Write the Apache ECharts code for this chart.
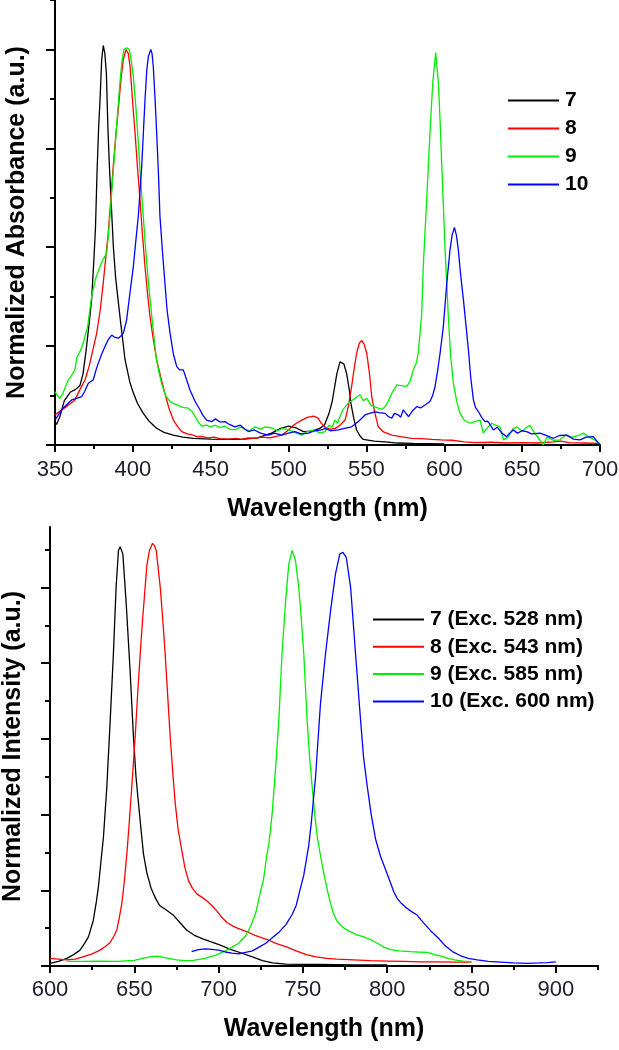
<!DOCTYPE html>
<html>
<head>
<meta charset="utf-8">
<script src="https://cdn.jsdelivr.net/npm/echarts@6/dist/echarts.min.js"></script>
<style>
  html, body { margin: 0; padding: 0; background: #fff; }
  #chart { width: 619px; height: 1050px; }
</style>
</head>
<body>
<div id="chart"></div>
<script>
// ---------- Absorption (top panel) ----------
const absNames = ['7', '8', '9', '10'];
const abs7_x = [350,351,353,356,360,363,366,368,370,372,373.5,375,376,377,378,379,380,381,382,383,384,385,386,387.5,389,391.7,395,398,400,403,406.7,410,415,420,426,432,439,450,460,470,480,489,495,500,505,509.5,515,520,523,526,528,531,533,534,535.5,537.3,539,540,542,543.7,546,548,555,562,570,580,600];
const abs7_y = [0.06,0.052,0.07,0.112,0.134,0.14,0.15,0.18,0.24,0.31,0.367,0.47,0.55,0.69,0.8,0.88,0.975,1.01,0.99,0.94,0.8,0.7,0.62,0.5,0.42,0.325,0.215,0.16,0.135,0.105,0.08,0.062,0.043,0.032,0.025,0.02,0.017,0.015,0.014,0.014,0.018,0.03,0.042,0.048,0.043,0.034,0.035,0.042,0.05,0.08,0.11,0.18,0.21,0.213,0.205,0.18,0.14,0.106,0.065,0.038,0.022,0.014,0.01,0.008,0.005,0.004,0.003];

const abs8_x = [350,353,356.4,360,362.8,366,369.3,372,374,376.8,379,381,383,384.2,386,387.4,389,390.7,392.5,393.9,395.6,397,398.2,400,401.4,403,404.6,406,407.8,409.5,411,413,415.3,418,420.6,423,426,429,431.4,435,438.8,441,444,448,452,456,461,466,470,474,478.5,483,488,492,495.6,499,502,505,508.5,512,516,519,521,524,527,530,533,536.3,538.5,540.5,542,543.7,545.5,547,548.5,550.2,552,553.4,555.5,557.6,561,566.3,572,579,585,592,598,605,613,620,630,640,650,660,670,675,680,690,700];
const abs8_y = [0.076,0.085,0.094,0.105,0.114,0.14,0.165,0.2,0.235,0.283,0.34,0.41,0.49,0.536,0.63,0.705,0.78,0.85,0.93,0.975,1.0,0.99,0.958,0.86,0.79,0.7,0.62,0.54,0.45,0.38,0.325,0.27,0.215,0.17,0.13,0.095,0.063,0.045,0.034,0.028,0.025,0.021,0.022,0.018,0.02,0.016,0.015,0.017,0.014,0.018,0.017,0.02,0.018,0.022,0.025,0.035,0.046,0.055,0.063,0.07,0.073,0.068,0.055,0.043,0.04,0.042,0.05,0.063,0.1,0.148,0.19,0.232,0.258,0.264,0.255,0.232,0.18,0.122,0.08,0.046,0.033,0.025,0.021,0.017,0.016,0.014,0.013,0.012,0.008,0.006,0.007,0.005,0.006,0.005,0.008,0.01,0.006,0.005,0.004];

const abs9_x = [350,351.5,353.2,355,357,358.6,360.5,362.8,364,366,367.5,369.3,371,373.5,376,378.9,381,383.2,385.3,387,388.5,390,391.7,393,394.3,396,397.7,399,400.3,402,403.5,405,406.7,408.3,410,411.5,413.1,415,417,418.5,421,423.9,426.5,429.2,432,435.6,438,440,442,444.2,447,450,452.8,456,459,462,465.6,469,472,475,478.5,482,485,489.2,493,496,500,504,508.5,512,517,520,523.4,526,528,529.8,531.5,533,535,538.4,540.5,542.7,545.9,548,550.2,553,557.6,560,562,564,566.3,569.5,572,575.9,578,580.1,582.3,583.5,584.4,585.5,586.5,588.7,590.8,592.6,594.5,596.2,597.3,598.4,600.5,602.6,604,605.8,608,610.1,613,616.5,620,623,625.1,627,630.5,633,635.8,638,641,644,646.5,650,652,655,658,661,663.6,666,670,674.3,678,682,686,689.3,693,697,700];
const abs9_y = [0.135,0.125,0.118,0.13,0.15,0.165,0.175,0.19,0.22,0.236,0.25,0.275,0.3,0.375,0.42,0.451,0.47,0.485,0.578,0.67,0.747,0.83,0.916,0.97,1.0,1.004,1.0,0.97,0.932,0.85,0.764,0.67,0.578,0.49,0.41,0.35,0.29,0.22,0.18,0.155,0.125,0.11,0.104,0.1,0.095,0.093,0.085,0.072,0.058,0.048,0.05,0.046,0.05,0.044,0.048,0.04,0.038,0.045,0.04,0.036,0.046,0.04,0.046,0.043,0.036,0.042,0.038,0.032,0.025,0.034,0.038,0.03,0.034,0.05,0.045,0.063,0.055,0.072,0.09,0.106,0.112,0.118,0.127,0.112,0.118,0.1,0.093,0.09,0.097,0.11,0.131,0.152,0.15,0.148,0.16,0.19,0.21,0.24,0.283,0.33,0.451,0.62,0.789,0.916,0.992,0.916,0.82,0.705,0.494,0.325,0.23,0.157,0.11,0.08,0.062,0.055,0.06,0.063,0.03,0.04,0.055,0.05,0.046,0.013,0.02,0.04,0.046,0.035,0.042,0.05,0.03,0.015,0.0,0.02,0.012,0.013,0.025,0.02,0.024,0.03,0.02,0.012,0.0];

const abs10_x = [350,352,354.3,357,360.7,364,367.1,369,371.4,374.6,376,377.8,380,382.1,384,386.4,388.5,390.7,392.5,393.9,396,398,400.3,402,403.5,405.7,407.8,409,410,411.5,412.3,413.1,414.2,415.3,416.5,417.4,419,420.6,422,423.9,426,428.2,430,432.4,434.5,436.7,440,443.1,445,447.4,450.6,453,456,459.2,462,465.6,469,472,474.2,478,482,487,491,495.6,500,504.1,508,512.7,517,521.3,523.4,527,532,536,540.5,545,549.1,552,555.5,558,562,564,566.3,568,570.5,572,573.7,575,577,580,582.3,585,587.6,590.8,592.5,594.1,595.8,597.3,599.4,601.6,603.7,605,606.5,607.8,609,610.5,612.3,614,615.5,617,618.7,620,622,624,626.2,628,631.5,634,637,640.1,642,644.3,647,650,652.9,656,661.5,665,670,674,678.6,683,687.2,691,695.7,698,700];
const abs10_y = [0.063,0.075,0.089,0.1,0.114,0.118,0.122,0.135,0.156,0.165,0.185,0.207,0.23,0.249,0.265,0.278,0.272,0.27,0.276,0.283,0.316,0.38,0.451,0.52,0.578,0.705,0.873,0.95,0.983,1.0,0.99,0.958,0.88,0.789,0.68,0.578,0.49,0.409,0.34,0.283,0.23,0.198,0.19,0.19,0.165,0.139,0.11,0.089,0.075,0.063,0.059,0.066,0.058,0.059,0.052,0.046,0.05,0.04,0.034,0.038,0.03,0.025,0.03,0.025,0.03,0.034,0.028,0.03,0.036,0.038,0.042,0.036,0.038,0.042,0.046,0.06,0.076,0.08,0.084,0.082,0.08,0.072,0.068,0.08,0.076,0.07,0.089,0.082,0.072,0.088,0.097,0.094,0.101,0.11,0.125,0.148,0.19,0.232,0.3,0.409,0.494,0.53,0.55,0.53,0.494,0.43,0.367,0.3,0.24,0.17,0.114,0.095,0.084,0.07,0.059,0.06,0.038,0.045,0.03,0.021,0.03,0.038,0.03,0.036,0.034,0.028,0.03,0.025,0.017,0.024,0.025,0.015,0.013,0.02,0.021,0.01,0.0];

// ---------- Emission (bottom panel) ----------
const emNames = ['7 (Exc. 528 nm)', '8 (Exc. 543 nm)', '9 (Exc. 585 nm)', '10 (Exc. 600 nm)'];
const em7_x = [600,605,610,614,617.8,620.5,622.8,625.7,627.5,628.7,630.3,631.7,633.7,635.7,637.6,639.2,640.6,641.6,643.2,645.2,647.5,649.5,651,652.5,654,655.4,657.5,660,662.5,665,669,673,677,681,686,691,696,701,707,713,720,726,732,740,760,780,800];
const em7_y = [0.007,0.012,0.02,0.03,0.042,0.06,0.077,0.121,0.17,0.209,0.28,0.341,0.473,0.649,0.825,1.0,1.098,1.108,1.089,0.957,0.781,0.605,0.5,0.429,0.36,0.297,0.245,0.205,0.18,0.16,0.148,0.135,0.115,0.095,0.08,0.071,0.063,0.055,0.044,0.035,0.024,0.014,0.008,0.005,0.004,0.003,0.003];

const em8_x = [600,605,610,615,620,625,629.7,633,635.7,638,639.6,641,642.6,644,645.6,647,648.5,650.5,652,653.5,655,656.4,657.5,659,660.8,662,663,664.2,665.4,666.8,668.3,670,671.3,673,674.3,676,678.2,680,682.2,684.5,687.2,690,693.1,696,699,702,705,709,713,717,722,728.8,734,740.6,746,752,758,764,770,780,790,800,810,820,830,840,850];
const em8_y = [0.02,0.018,0.016,0.018,0.025,0.032,0.042,0.052,0.062,0.08,0.095,0.125,0.165,0.22,0.297,0.38,0.473,0.605,0.72,0.825,0.92,1.0,1.06,1.098,1.117,1.11,1.098,1.05,1.0,0.92,0.825,0.7,0.605,0.5,0.429,0.36,0.305,0.26,0.225,0.205,0.19,0.182,0.172,0.16,0.145,0.128,0.115,0.104,0.097,0.09,0.08,0.07,0.06,0.05,0.04,0.03,0.024,0.02,0.018,0.016,0.014,0.013,0.012,0.011,0.011,0.01,0.01];

const em9_x = [610,620,630,640,650,655,660,664,668,675,680,685,692,698,704,708,712,716,719,722,724.5,726.7,728.5,730,731.7,733.7,735.7,737.6,739.6,741.6,743.6,745.6,747.5,748.5,750.5,752.5,754,755.5,757,758.5,760.5,762.4,764.5,766.4,768,770,772.3,775,778.3,782,786.2,790,794.1,798,802,807,813.9,818,823.8,828,832,836,840,845,850];
const em9_y = [0.012,0.012,0.013,0.012,0.015,0.02,0.025,0.026,0.022,0.016,0.014,0.015,0.02,0.028,0.04,0.05,0.06,0.08,0.105,0.14,0.19,0.23,0.29,0.33,0.4,0.517,0.649,0.825,0.957,1.062,1.098,1.071,1.0,0.95,0.825,0.649,0.55,0.473,0.4,0.341,0.29,0.245,0.2,0.165,0.14,0.12,0.108,0.098,0.09,0.082,0.077,0.07,0.06,0.05,0.043,0.04,0.038,0.037,0.036,0.03,0.026,0.02,0.016,0.013,0.011];

const em10_x = [684,688,692,696,700,704,708,712,716,720,724,728,732,736,740,743.6,746,748.5,750.5,752,753.5,755,757.5,760.4,763.4,766.4,769.3,771.9,773.7,775.7,778.3,781.2,784.2,786,788.2,790.5,793.1,796,799,801.5,804,806,808.5,810.9,814,817.9,820,822.8,826,830.7,834,838.7,843.6,848,853.5,860,867.4,875,883.2,890,895,900];
const em10_y = [0.038,0.043,0.045,0.044,0.042,0.037,0.034,0.032,0.036,0.04,0.05,0.06,0.075,0.09,0.11,0.136,0.16,0.205,0.24,0.28,0.32,0.38,0.5,0.693,0.825,0.939,1.036,1.089,1.093,1.08,1.0,0.825,0.649,0.55,0.473,0.4,0.335,0.29,0.255,0.225,0.195,0.178,0.165,0.155,0.145,0.134,0.122,0.108,0.092,0.072,0.055,0.038,0.027,0.02,0.016,0.012,0.01,0.008,0.007,0.008,0.009,0.011];

// ---------- Tick values ----------
const absXMajor = [350,400,450,500,550,600,650,700];
const absXMinor = [375,425,475,525,575,625,675];
const absYMajor = [0,0.25,0.5,0.75,1.0];
const absYMinor = [0.125,0.375,0.625,0.875,1.125];
const emXMajor = [600,650,700,750,800,850,900];
const emXMinor = [625,675,725,775,825,875,925];
const emYMajor = [0,0.2,0.4,0.6,0.8,1.0];
const emYMinor = [0.1,0.3,0.5,0.7,0.9,1.1];

const colors = ['#000000', '#ff0000', '#00ee00', '#0000ff'];
const FONT = 'Liberation Sans, Arial, sans-serif';

function zip(xs, ys) { return xs.map((x, i) => [x, ys[i]]); }

const absData = [zip(abs7_x, abs7_y), zip(abs8_x, abs8_y), zip(abs9_x, abs9_y), zip(abs10_x, abs10_y)];
const emData = [zip(em7_x, em7_y), zip(em8_x, em8_y), zip(em9_x, em9_y), zip(em10_x, em10_y)];

const lineAxis = { show: true, lineStyle: { color: '#000', width: 2 } };

function xAxisPair(gridIndex, min, max, major, minor, nameGap, labelMargin) {
  return [
    {
      type: 'value', gridIndex, min, max, position: 'bottom',
      axisLine: lineAxis,
      axisTick: { show: true, inside: false, length: 7, customValues: major, lineStyle: { color: '#000', width: 2 } },
      axisLabel: { show: true, customValues: major, margin: labelMargin, fontFamily: FONT, fontSize: 22, color: '#1c1c2c' },
      splitLine: { show: false },
      name: 'Wavelength (nm)', nameLocation: 'middle', nameGap: nameGap,
      nameTextStyle: { fontFamily: FONT, fontSize: 25, fontWeight: 'bold', color: '#000' }
    },
    {
      type: 'value', gridIndex, min, max, position: 'bottom',
      axisLine: { show: false },
      axisTick: { show: true, inside: false, length: 4, customValues: minor, lineStyle: { color: '#000', width: 2 } },
      axisLabel: { show: false },
      splitLine: { show: false }
    }
  ];
}

function yAxisPair(gridIndex, min, max, major, minor, name, nameGap) {
  return [
    {
      type: 'value', gridIndex, min, max, position: 'left',
      axisLine: lineAxis,
      axisTick: { show: true, inside: false, length: 9, customValues: major, lineStyle: { color: '#000', width: 2 } },
      axisLabel: { show: false },
      splitLine: { show: false },
      name: name, nameLocation: 'middle', nameGap: nameGap, nameRotate: 90,
      nameTextStyle: { fontFamily: FONT, fontSize: 25, fontWeight: 'bold', color: '#000' }
    },
    {
      type: 'value', gridIndex, min, max, position: 'left',
      axisLine: { show: false },
      axisTick: { show: true, inside: false, length: 5, customValues: minor, lineStyle: { color: '#000', width: 2 } },
      axisLabel: { show: false },
      splitLine: { show: false }
    }
  ];
}

const series = [];
absNames.forEach((n, i) => series.push({
  name: n, type: 'line', xAxisIndex: 0, yAxisIndex: 0, data: absData[i],
  showSymbol: false, symbol: 'none', lineStyle: { width: 1.3, color: colors[i] }, itemStyle: { color: colors[i] },
  z: 2 + i
}));
emNames.forEach((n, i) => series.push({
  name: n, type: 'line', xAxisIndex: 2, yAxisIndex: 2, data: emData[i],
  showSymbol: false, symbol: 'none', lineStyle: { width: 1.3, color: colors[i] }, itemStyle: { color: colors[i] },
  z: 2 + i
}));

const legendCommon = {
  orient: 'vertical', icon: 'rect', itemWidth: 51, itemHeight: 2, padding: 0,
  textStyle: { fontFamily: FONT, fontSize: 21, fontWeight: 'bold', color: '#000', lineHeight: 21, padding: [0, 0, 0, 1] },
  selectedMode: false
};

const option = {
  animation: false,
  backgroundColor: '#fff',
  grid: [
    { left: 55, right: 19, top: 0, bottom: 605, containLabel: false, outerBoundsMode: 'none' },
    { left: 50, right: 21, top: 527, bottom: 84, containLabel: false, outerBoundsMode: 'none' }
  ],
  xAxis: [
    ...xAxisPair(0, 350, 700, absXMajor, absXMinor, 52, 14),
    ...xAxisPair(1, 600, 925, emXMajor, emXMinor, 51, 13)
  ],
  yAxis: [
    ...yAxisPair(0, 0, 1.125, absYMajor, absYMinor, 'Normalized Absorbance (a.u.)', 25),
    ...yAxisPair(1, 0, 1.16, emYMajor, emYMinor, 'Normalized Intensity (a.u.)', 24)
  ],
  legend: [
    Object.assign({}, legendCommon, { data: absNames, left: 508, top: 90, itemGap: 7 }),
    Object.assign({}, legendCommon, { data: emNames, left: 373, top: 609, itemGap: 6.3 })
  ],
  series
};

const chart = echarts.init(document.getElementById('chart'), null, { renderer: 'canvas' });
chart.setOption(option);
</script>
</body>
</html>
